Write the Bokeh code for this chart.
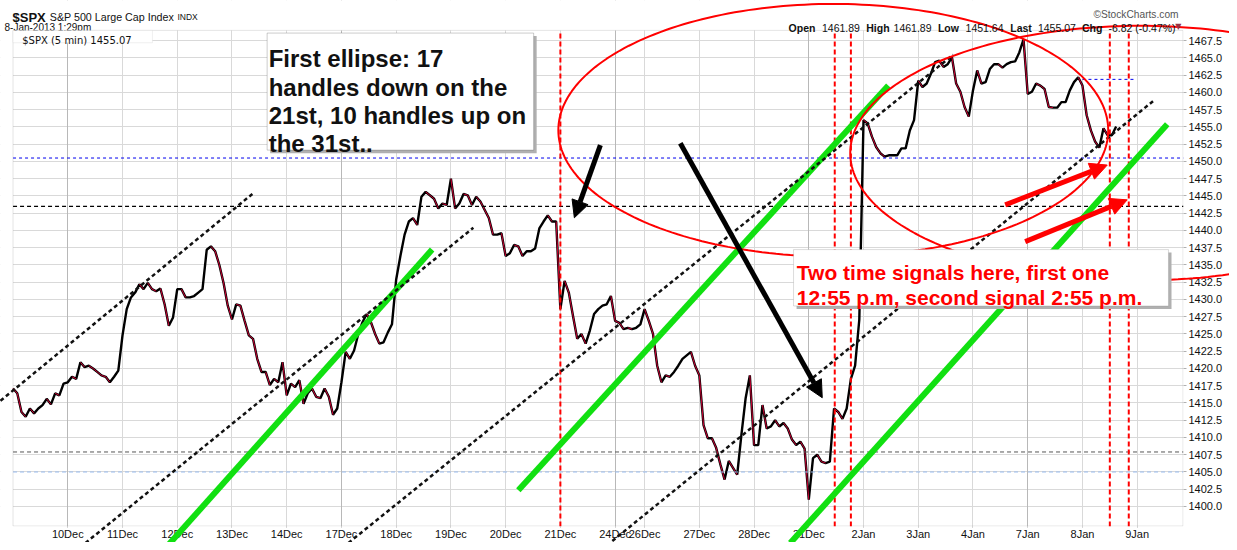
import numpy as np
from bokeh.plotting import figure
from bokeh.models import (Range1d, FixedTicker, Label, BoxAnnotation,
                          Arrow, NormalHead, Grid, PrintfTickFormatter)
from bokeh.embed import file_html
from bokeh.resources import INLINE

# ---------------- data (5-minute $SPX, sampled every 6 bars) ----------------
session_labels = ["7Dec", "10Dec", "11Dec", "12Dec", "13Dec", "14Dec", "17Dec", "18Dec", "19Dec",
                  "20Dec", "21Dec", "24Dec", "26Dec", "27Dec", "28Dec", "31Dec", "2Jan", "3Jan",
                  "4Jan", "7Jan", "8Jan", "9Jan"]
session_bars = [78, 78, 78, 78, 78, 78, 78, 78, 78, 78, 78, 42, 78, 78, 78, 78, 78, 78, 78, 78, 78, 78]
mondays = ["10Dec", "17Dec", "24Dec", "31Dec", "7Jan"]
sample_step = 6

dec07 = [1417.1, 1416.4, 1413.7, 1413.0, 1414.2, 1413.5, 1414.2, 1414.7, 1415.6, 1414.8, 1416.4, 1416.1, 1417.8]
dec10 = [1418.0, 1418.8, 1418.5, 1420.9, 1420.2, 1420.4, 1420.0, 1419.5, 1419.0, 1418.8, 1418.0, 1418.8, 1419.7]
dec11 = [1424.8, 1428.6, 1430.3, 1431.0, 1432.2, 1431.5, 1432.4, 1431.5, 1431.2, 1431.6, 1429.3, 1426.2, 1427.4]
dec12 = [1431.5, 1431.5, 1430.3, 1430.3, 1430.5, 1431.0, 1431.5, 1437.2, 1437.7, 1437.0, 1435.0, 1432.4, 1429.1]
dec13 = [1427.1, 1429.3, 1429.1, 1426.9, 1424.8, 1424.3, 1421.4, 1419.5, 1419.5, 1417.6, 1418.5, 1418.0, 1420.9]
dec14 = [1416.1, 1417.8, 1417.3, 1418.3, 1414.9, 1416.4, 1417.1, 1415.9, 1415.7, 1417.1, 1415.9, 1413.3, 1414.2]
dec17 = [1418.0, 1422.4, 1421.4, 1422.6, 1425.0, 1426.7, 1427.9, 1426.7, 1425.0, 1423.6, 1423.8, 1425.2, 1426.4]
dec18 = [1432.9, 1436.3, 1439.4, 1441.3, 1441.8, 1440.8, 1444.9, 1445.6, 1445.1, 1444.6, 1443.2, 1443.9, 1443.7]
dec19 = [1447.5, 1443.2, 1443.9, 1445.3, 1445.1, 1443.7, 1444.9, 1444.2, 1443.0, 1441.8, 1439.4, 1439.4, 1439.6]
dec20 = [1436.3, 1436.7, 1437.9, 1437.7, 1436.3, 1437.0, 1437.0, 1437.4, 1440.3, 1441.3, 1442.2, 1441.3, 1441.3]
dec21 = [1428.6, 1432.7, 1431.0, 1427.6, 1424.3, 1425.0, 1423.6, 1425.5, 1427.9, 1428.6, 1429.1, 1429.3, 1430.5]
dec24 = [1426.9, 1426.6, 1425.7, 1425.9, 1425.7, 1425.9, 1426.4]
dec26 = [1428.6, 1426.9, 1425.0, 1420.4, 1418.0, 1419.0, 1418.8, 1419.5, 1420.4, 1421.4, 1421.9, 1422.4, 1420.4]
dec27 = [1419.0, 1411.8, 1409.9, 1409.9, 1408.5, 1406.1, 1403.9, 1406.6, 1405.6, 1404.6, 1410.4, 1415.7, 1419.0]
dec28 = [1408.9, 1408.9, 1414.7, 1411.3, 1411.6, 1412.5, 1411.6, 1412.1, 1411.3, 1409.7, 1408.9, 1409.4, 1408.4]
dec31 = [1401.0, 1407.0, 1407.5, 1406.5, 1406.3, 1406.5, 1414.2, 1413.7, 1412.7, 1414.2, 1418.5, 1420.4, 1427.1]
jan02 = [1456.0, 1455.5, 1453.6, 1452.1, 1451.2, 1450.7, 1450.9, 1450.9, 1450.9, 1451.9, 1451.9, 1454.5, 1456.0]
jan03 = [1461.7, 1460.8, 1461.3, 1462.7, 1464.4, 1464.6, 1463.7, 1464.1, 1465.1, 1461.3, 1460.1, 1457.9, 1456.5]
jan04 = [1460.3, 1463.2, 1461.3, 1461.5, 1463.4, 1464.1, 1464.1, 1463.6, 1464.1, 1464.4, 1464.5, 1465.8, 1467.7]
jan07 = [1459.8, 1460.1, 1461.3, 1461.0, 1460.5, 1457.9, 1457.8, 1457.8, 1458.6, 1458.6, 1460.3, 1461.5, 1462.2]
jan08 = [1461.0, 1456.7, 1454.5, 1452.9, 1452.0, 1454.8, 1453.8, 1453.8, 1455.07]
session_closes = [dec07, dec10, dec11, dec12, dec13, dec14, dec17, dec18, dec19, dec20, dec21,
                  dec24, dec26, dec27, dec28, dec31, jan02, jan03, jan04, jan07, jan08]

y_ticks = [1400.0 + 2.5 * i for i in range(28)]

# chart area (bars / price) and reference levels
x_first, x_last = 0, 1668
y_low, y_high = 1397.1, 1469.0
blue_level = 1450.5
black_level = 1443.5
gray_level = 1407.9
lightblue_level = 1405.0
open_level = 1461.9
open_level_span = [1524, 1599]
signal_bars = [780, 1171, 1194, 1563, 1590]

# hand-drawn annotation geometry (bar index, price)
green_lines = [(220.0, 1394.28, 597.2, 1437.23), (720.1, 1402.35, 1247.3, 1461.01),
               (1107.6, 1394.71, 1644.8, 1455.39)]
dotted_lines = [(-17.9, 1415.32, 341.1, 1445.3), (103.2, 1394.71, 656.0, 1440.4),
                (477.9, 1394.71, 1339.9, 1465.48), (854.0, 1395.0, 1627.7, 1459.0)]
ellipses = [(1168.9, 1454.53, 391.8, 18.3), (1606.3, 1451.21, 413.2, 18.45)]
black_arrows = [(837.0, 1452.37, 799.9, 1441.84), (950.9, 1452.65, 1153.2, 1415.76)]
red_arrows = [(1413.9, 1443.72, 1559.3, 1449.48), (1442.4, 1438.39, 1587.8, 1444.44)]

note1_lines = ["First ellipse: 17", "handles down on the", "21st, 10 handles up on", "the 31st.."]
note2_lines = ["Two time signals here, first one", "12:55 p.m, second signal 2:55 p.m."]
header_items = [("Open", True, 1105.2), ("1461.89", False, 1152.8), ("High", True, 1215.9),
                ("1461.89", False, 1254.8), ("Low", True, 1318.0), ("1451.64", False, 1357.4),
                ("Last", True, 1421.1), ("1455.07", False, 1460.5), ("Chg", True, 1523.2),
                ("-6.82 (-0.47%)", False, 1561.1)]

# ---------------- derived positions ----------------
session_starts = [0]
for n in session_bars[:-1]:
    session_starts.append(session_starts[-1] + n)
tick_pos = session_starts[1:]
tick_lab = {pos: lab for pos, lab in zip(session_starts[1:], session_labels[1:])}
monday_pos = [s for s, lab in zip(session_starts, session_labels) if lab in mondays]

xs, ys = [], []
for start, vals in zip(session_starts, session_closes):
    xs += [start + sample_step * k for k in range(len(vals))]
    ys += list(vals)

# ---------------- figure ----------------
# the frame also covers the header strip and the left margin so header texts are not clipped
p = figure(width=1229, height=542, x_range=Range1d(-17.88, x_last), y_range=Range1d(y_low, 1473.33),
           output_backend="svg", toolbar_location=None, y_axis_location="right", title=None,
           min_border_left=0, min_border_right=46, min_border_top=0, min_border_bottom=14)
p.background_fill_color = "white"
p.border_fill_color = "white"
p.outline_line_color = None

p.xaxis.ticker = FixedTicker(ticks=tick_pos)
p.xaxis.major_label_overrides = tick_lab
p.yaxis.ticker = FixedTicker(ticks=y_ticks)
p.yaxis.formatter = PrintfTickFormatter(format="%.1f")
for ax in (p.xaxis, p.yaxis):
    ax.major_label_text_font = "Liberation Sans"
    ax.major_label_text_font_size = "11px"
    ax.major_label_text_color = "#111111"
    ax.axis_line_color = None
    ax.major_tick_line_color = "#b0b0b0"
    ax.major_tick_in = 0
    ax.minor_tick_out = 0
    ax.minor_tick_in = 0
p.xaxis.major_tick_out = 1
p.xaxis.major_label_standoff = 0
p.yaxis.major_tick_out = 3
p.yaxis.major_label_standoff = 2
p.xgrid.grid_line_color = "#d9d9d9"
p.ygrid.grid_line_color = "#d9d9d9"
p.add_layout(Grid(dimension=0, ticker=FixedTicker(ticks=monday_pos), grid_line_color="#b8b8b8"), "center")

# white header strip / left margin hide the grid outside the chart area, then the chart border
p.add_layout(BoxAnnotation(left=-17.88, right=x_last, bottom=y_high, top=1473.33, fill_color="white",
                           fill_alpha=1, line_alpha=0, level="underlay"))
p.add_layout(BoxAnnotation(left=-17.88, right=x_first, bottom=y_low, top=1473.33, fill_color="white",
                           fill_alpha=1, line_alpha=0, level="underlay"))
p.add_layout(BoxAnnotation(left=x_first, right=x_last - 0.7, bottom=y_low + 0.07, top=y_high,
                           fill_alpha=0, line_color="#aaaaaa", line_width=1, level="underlay"))

# price
p.line(xs, ys, line_color="black", line_width=2.4)
down = [i for i in range(len(ys) - 1) if ys[i + 1] < ys[i]]
p.segment(x0=[xs[i] for i in down], y0=[ys[i] for i in down],
          x1=[xs[i + 1] for i in down], y1=[ys[i + 1] for i in down],
          line_color="#cc0033", line_width=1)

# horizontal levels
for lvl, col, dash, w in [(blue_level, "#0000ee", "3 3", 1), (black_level, "black", "4 3", 1.2),
                          (gray_level, "#555555", "4 3", 1), (lightblue_level, "#99bbee", "4 3", 1)]:
    p.segment(x0=[x_first], y0=[lvl], x1=[x_last], y1=[lvl], line_color=col, line_dash=dash, line_width=w)
p.segment(x0=[open_level_span[0]], y0=[open_level], x1=[open_level_span[1]], y1=[open_level],
          line_color="#0000ee", line_dash="3 3", line_width=1)

# time-signal verticals
p.segment(x0=signal_bars, y0=[y_low] * len(signal_bars), x1=signal_bars, y1=[y_high] * len(signal_bars),
          line_color="#ff0000", line_dash="5 3", line_width=2)

# trend channels (overlay level glyphs, allowed to run past the chart border)
for x0, y0, x1, y1 in green_lines:
    r = p.line([x0, x1], [y0, y1], line_color="#11e011", line_width=6)
    r.level = "overlay"
for x0, y0, x1, y1 in dotted_lines:
    r = p.line([x0, x1], [y0, y1], line_color="#111111", line_width=2.5, line_dash="4 3")
    r.level = "overlay"

# ellipses
t = np.linspace(0, 2 * np.pi, 241)
for cx, cy, rx, ry in ellipses:
    r = p.line(list(cx + rx * np.cos(t)), list(cy + ry * np.sin(t)), line_color="#ff0000", line_width=2)
    r.level = "overlay"

# header
def hlabel(**kw):
    kw.setdefault("text_color", "#111111")
    kw.setdefault("text_font", "Liberation Sans")
    p.add_layout(Label(text_baseline="alphabetic", level="overlay", **kw))

hlabel(x=-0.8, y=1470.92, text="$SPX", text_font_size="13px", text_font_style="bold")
hlabel(x=52.4, y=1470.92, text="S&P 500 Large Cap Index", text_font_size="10.7px")
hlabel(x=234.3, y=1471.0, text="INDX", text_font_size="8.5px")
hlabel(x=-12.2, y=1469.36, text="8-Jan-2013 1:29pm", text_font_size="10px")
for txt, bold, xb in header_items:
    hlabel(x=xb, y=1469.36, text=txt, text_font_size="10.5px", text_font_style="bold" if bold else "normal")
hlabel(x=1656.1, y=1469.5, text="\u25bc", text_font="DejaVu Sans", text_font_size="8px", text_color="#993344")
hlabel(x=1539.7, y=1471.3, text="\u00a9StockCharts.com", text_font_size="10.2px", text_color="#555555")

# arrows
for x0, y0, x1, y1 in black_arrows:
    p.add_layout(Arrow(end=NormalHead(size=17, fill_color="black", line_color="black"),
                       x_start=x0, y_start=y0, x_end=x1, y_end=y1, line_color="black", line_width=5,
                       level="overlay"))
for x0, y0, x1, y1 in red_arrows:
    p.add_layout(Arrow(end=NormalHead(size=17, fill_color="#ff0000", line_color="#ff0000"),
                       x_start=x0, y_start=y0, x_end=x1, y_end=y1, line_color="#ff0000", line_width=5,
                       level="overlay"))

# note boxes
def box(**kw):
    p.add_layout(BoxAnnotation(level="overlay", fill_alpha=1, **kw))

box(left=366.4, right=746.2, top=1468.18, bottom=1451.21, fill_color="#b0b0b0", line_alpha=0)
box(left=362.1, right=741.9, top=1468.61, bottom=1451.65, fill_color="white", line_color="#555555", line_width=1)
for line, yb in zip(note1_lines, [1464.86, 1460.77, 1456.69, 1452.61]):
    hlabel(x=364.3, y=yb, text=line, text_font_size="24px", text_font_style="bold")

box(left=1116.6, right=1650.9, top=1436.8, bottom=1428.63, fill_color="#b0b0b0", line_alpha=0)
box(left=1112.3, right=1646.6, top=1437.23, bottom=1429.06, fill_color="white", line_color="#888888", line_width=1)
for line, yb in zip(note2_lines, [1433.87, 1430.27]):
    hlabel(x=1116.9, y=yb, text=line, text_font_size="21px", text_font_style="bold", text_color="#ff0000")

# legend box
box(left=x_first, right=198.7, top=y_high, bottom=1467.21, fill_color="white", line_color="#cccccc", line_width=1)
hlabel(x=13.0, y=1467.55, text="$SPX (5 min) 1455.07", text_font="DejaVu Sans", text_font_size="10px")

open("out.html", "w").write(file_html(p, INLINE))
